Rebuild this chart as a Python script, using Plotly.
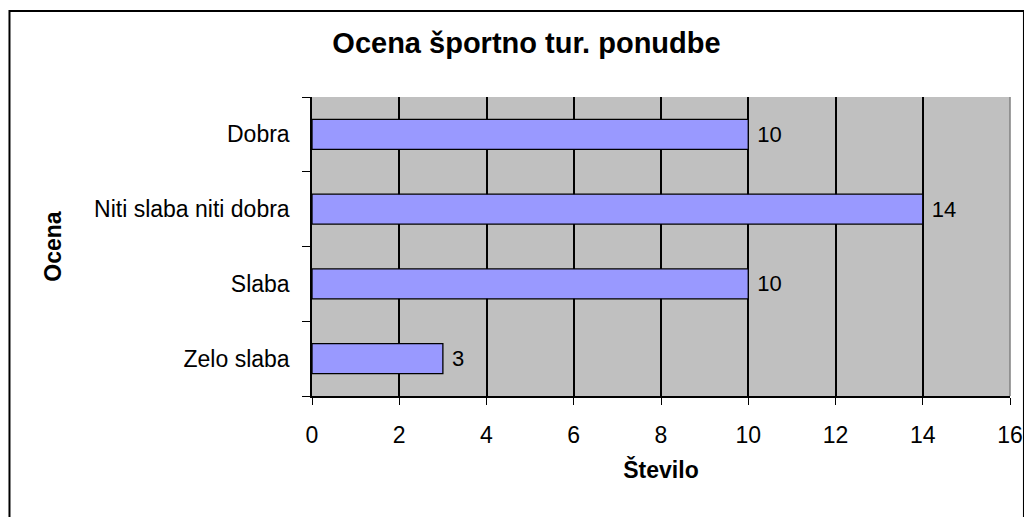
import plotly.graph_objects as go

categories = ["Zelo slaba", "Slaba", "Niti slaba niti dobra", "Dobra"]
counts = [3, 10, 14, 10]
x_ticks = [0, 2, 4, 6, 8, 10, 12, 14, 16]

FONT = "Liberation Sans, Arial, sans-serif"

fig = go.Figure()
fig.add_trace(go.Bar(
    y=categories,
    x=counts,
    orientation='h',
    marker=dict(color='#9999FF', line=dict(color='black', width=1.3)),
    text=[" " + str(v) for v in counts],
    textposition='outside',
    textfont=dict(size=22, color='black', family=FONT),
    cliponaxis=False,
    width=0.4,
))

fig.update_layout(
    width=1032, height=517,
    margin=dict(l=304, r=30, t=89, b=129),
    paper_bgcolor='white',
    plot_bgcolor='#C0C0C0',
    showlegend=False,
    font=dict(family=FONT, size=23, color='black'),
    title=dict(
        text="<b>Ocena športno tur. ponudbe</b>",
        x=0.5024, xanchor='center', y=0.932, yanchor='middle',
        font=dict(size=29, family=FONT, color='black'),
    ),
    xaxis=dict(
        range=[0, 16], tickvals=x_ticks,
        showgrid=True, gridcolor='black', gridwidth=1.5,
        showline=True, linecolor='black', linewidth=1.5,
        ticks='outside', ticklen=7, tickcolor='black',
        ticklabelstandoff=11,
        zeroline=False,
        tickfont=dict(size=23),
        title=dict(text="<b>Število</b>", font=dict(size=23), standoff=15),
    ),
    yaxis=dict(
        categoryorder='array', categoryarray=categories,
        showgrid=False,
        showline=True, linecolor='black', linewidth=1.5,
        ticks='outside', ticklen=8, tickcolor='black', tickson='boundaries',
        ticklabelstandoff=16,
        tickfont=dict(size=23),
        title=dict(text="<b>Ocena</b>", font=dict(size=23), standoff=26),
    ),
    shapes=[
        # outer chart frame: only its left and top edges fall inside the page
        dict(type='rect', xref='paper', yref='paper',
             x0=-0.4334, x1=1.02, y0=-0.45, y1=1.2876,
             line=dict(color='black', width=2), fillcolor='rgba(0,0,0,0)', layer='above'),
        dict(type='line', xref='paper', yref='paper',
             x0=1, x1=1, y0=0, y1=1,
             line=dict(color='#808080', width=1.5)),
    ],
)

fig.write_html("out.html")
